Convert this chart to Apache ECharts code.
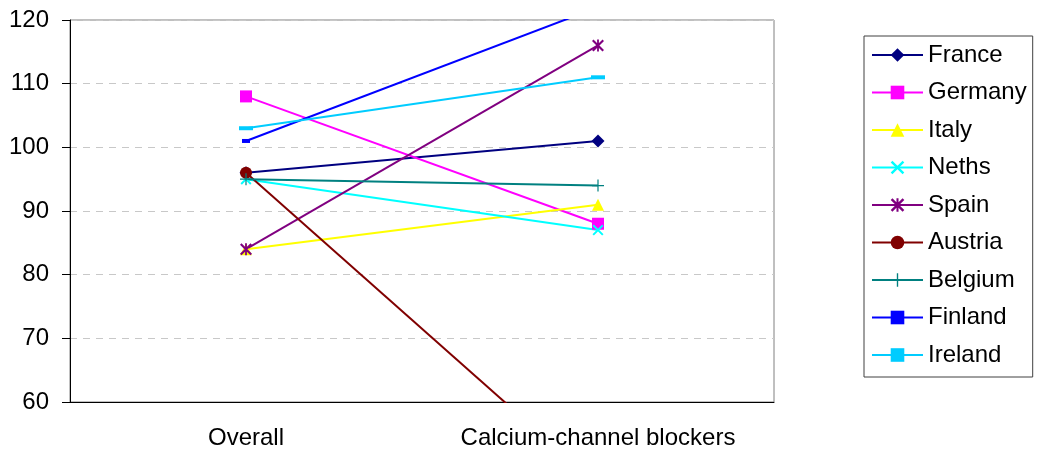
<!DOCTYPE html>
<html>
<head>
<meta charset="utf-8">
<script src="https://cdn.jsdelivr.net/npm/echarts@6/dist/echarts.min.js"></script>
<style>
  html, body { margin: 0; padding: 0; background: #fff; }
</style>
</head>
<body>
<div id="main" style="width: 1039px; height: 454px"></div>
<script>
const categories = ['Overall', 'Calcium-channel blockers']
const countries = ['France', 'Germany', 'Italy', 'Neths', 'Spain', 'Austria', 'Belgium', 'Finland', 'Ireland']

const france = [96, 101]
const germany = [108, 88]
const italy = [84, 91]
const neths = [95, 87]
const spain = [84, 116]
const austria = [96, 47]
const belgium = [95, 94]
const finland = [101, 122]
const ireland = [103, 111]

const yTicks = [60, 70, 80, 90, 100, 110, 120]

// marker shapes drawn as filled paths
const plusPath = 'path://M9,0 H11 V9 H20 V11 H11 V20 H9 V11 H0 V9 H9 Z'
const crossPath = 'path://M0,2.5 L2.5,0 L20,17.5 L17.5,20 Z M17.5,0 L20,2.5 L2.5,20 L0,17.5 Z'
const starPath = 'path://M8.5,0 H11.5 V20 H8.5 Z M0,2.5 L2.5,0 L20,17.5 L17.5,20 Z M17.5,0 L20,2.5 L2.5,20 L0,17.5 Z'

const styles = [
  { color: '#000080', symbol: 'diamond', size: 13 },
  { color: '#FF00FF', symbol: 'rect', size: 12 },
  { color: '#FFFF00', symbol: 'triangle', size: 12 },
  { color: '#00FFFF', symbol: crossPath, size: 11 },
  { color: '#800080', symbol: starPath, size: 12 },
  { color: '#800000', symbol: 'circle', size: 12 },
  { color: '#008080', symbol: plusPath, size: 12 },
  { color: '#0000FF', symbol: 'rect', size: [8, 4] },
  { color: '#00CCFF', symbol: 'rect', size: [14, 4] },
]
const values = [france, germany, italy, neths, spain, austria, belgium, finland, ireland]

let mychart = echarts.init(document.getElementById('main'))
mychart.setOption({
  animation: false,
  textStyle: { fontFamily: 'Liberation Sans, Arial, sans-serif' },
  grid: {
    left: 70,
    right: 265,
    top: 20,
    bottom: 52,
    show: true,
    borderColor: '#808080',
    borderWidth: 1,
  },
  legend: {
    orient: 'vertical',
    left: 864,
    top: 36,
    padding: [7, 6, 10, 7],
    itemGap: 13.5,
    itemWidth: 51,
    itemHeight: 17,
    borderColor: '#404040',
    borderWidth: 1,
    textStyle: { fontSize: 24, color: '#000', lineHeight: 24 },
    data: countries,
  },
  xAxis: {
    type: 'category',
    data: categories,
    boundaryGap: true,
    axisLine: { lineStyle: { color: '#000', width: 1 } },
    axisTick: { length: 6, lineStyle: { color: '#000' } },
    axisLabel: { fontSize: 24, color: '#000', margin: 24, interval: 0 },
  },
  yAxis: {
    type: 'value',
    min: yTicks[0],
    max: yTicks[yTicks.length - 1],
    interval: 10,
    axisLine: { show: true, lineStyle: { color: '#000', width: 1 } },
    axisTick: { show: true, length: 8, lineStyle: { color: '#000' } },
    axisLabel: { fontSize: 24, color: '#000', margin: 21 },
    splitLine: { lineStyle: { color: '#c8c8c8', type: [7, 6] } },
  },
  series: countries.map((name, i) => ({
    name: name,
    type: 'line',
    data: values[i],
    symbol: styles[i].symbol,
    symbolSize: styles[i].size,
    showAllSymbol: true,
    clip: true,
    itemStyle: { color: styles[i].color },
    lineStyle: { color: styles[i].color, width: 2 },
  })),
})
</script>
</body>
</html>
